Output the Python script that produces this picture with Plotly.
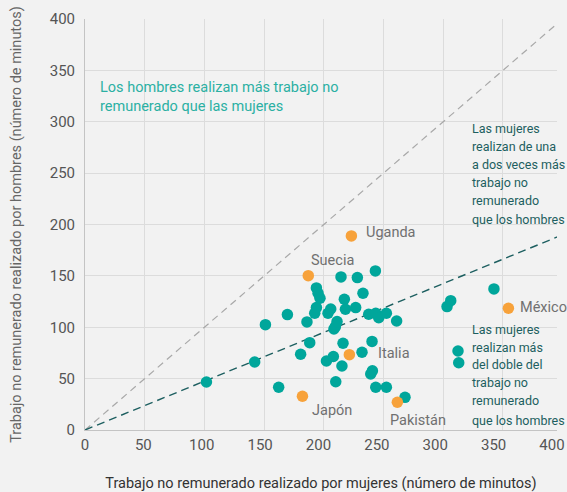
import plotly.graph_objects as go

# Teal points: unpaid work by women (x) vs men (y), minutes
teal_x = [101.7, 142.1, 151.1, 162.2, 169.5, 180.6, 185.9, 188.2, 192.4, 193.8,
          193.8, 195.2, 196.8, 202.2, 203.5, 205.8, 208.0, 208.5, 209.7, 211.1,
          210.0, 214.4, 215.2, 216.1, 217.2, 218.1, 226.7, 228.1, 232.0, 232.8,
          237.6, 239.3, 240.7, 240.4, 243.2, 243.5, 243.5, 246.0, 252.4, 252.4,
          261.0, 268.0, 303.2, 306.3, 312.4, 313.0, 342.5]
teal_y = [46.7, 66.2, 102.5, 41.6, 112.3, 73.7, 105.2, 85.0, 113.6, 119.1,
          138.3, 133.1, 128.2, 67.2, 113.6, 117.8, 71.5, 98.3, 100.6, 105.5,
          47.0, 149.0, 62.3, 84.4, 127.3, 117.5, 119.1, 148.3, 75.7, 133.1,
          112.7, 54.5, 57.7, 86.2, 154.8, 113.6, 41.6, 109.3, 113.6, 41.6,
          106.1, 31.8, 120.1, 125.9, 76.9, 65.5, 137.3]

# Highlighted countries
hl_names = ["Uganda", "Suecia", "México", "Italia", "Japón", "Pakistán"]
hl_x = [223.1, 187.0, 354.6, 221.4, 182.1, 261.6]
hl_y = [188.9, 150.2, 118.5, 73.3, 32.8, 27.0]
# label anchor positions (left edge of text, middle)
lbl_x = [233.5, 187.5, 362.5, 243.5, 188.5, 253.5]
lbl_y = [192.0, 164.5, 119.0, 74.0, 18.8, 9.7]

# Reference lines
eq_x = [0, 400]
eq_y = [0, 400]
half_x = [0, 400]
half_y = [0, 190]

# Text blocks (one entry per line) and their line positions
men_lines = ["Los hombres realizan más trabajo no", "remunerado que las mujeres"]
men_x = 11.0
men_y = [333.7, 314.8]
one_two_lines = ["Las mujeres", "realizan de una", "a dos veces más", "trabajo no",
                 "remunerado", "que los hombres"]
one_two_x = 322.8
one_two_y = [293.8, 275.9, 258.0, 240.8, 223.3, 205.2]
double_lines = ["Las mujeres", "realizan más", "del doble del", "trabajo no",
                "remunerado", "que los hombres"]
double_x = 322.2
double_y = [98.0, 80.5, 63.3, 46.1, 28.3, 9.7]

x_ticks = [0, 50, 100, 150, 200, 250, 300, 350, 400]
y_ticks = [0, 50, 100, 150, 200, 250, 300, 350, 400]

FONT = "Roboto, sans-serif"
TEAL = "#00a69b"
ORANGE = "#f7a23b"
DARK = "#1d5f60"
BG = "#f2f2f2"

def fnt(size, color):
    return dict(family=FONT, size=size, color=color)

fig = go.Figure()
fig.add_trace(go.Scatter(x=eq_x, y=eq_y, mode="lines",
                         line=dict(color="#a8a8a8", width=1.2, dash="7px,5px"),
                         hoverinfo="skip", showlegend=False))
fig.add_trace(go.Scatter(x=half_x, y=half_y, mode="lines",
                         line=dict(color=DARK, width=1.4, dash="8px,5px"),
                         hoverinfo="skip", showlegend=False))
fig.add_trace(go.Scatter(x=teal_x, y=teal_y, mode="markers",
                         marker=dict(color=TEAL, size=11.5),
                         showlegend=False))
fig.add_trace(go.Scatter(x=hl_x, y=hl_y, mode="markers",
                         marker=dict(color=ORANGE, size=11.5),
                         text=hl_names, showlegend=False))

for n, lx, ly in zip(hl_names, lbl_x, lbl_y):
    fig.add_annotation(x=lx, y=ly, text=n, showarrow=False, xanchor="left",
                       yanchor="middle", font=fnt(14.5, "#707070"))

def add_block(lines, x, ys, size, color):
    for t, yy in zip(lines, ys):
        fig.add_annotation(x=x, y=yy, text=t, showarrow=False, xanchor="left",
                           yanchor="middle", font=fnt(size, color))

add_block(men_lines, men_x, men_y, 14.5, "#2bb0a3")
add_block(one_two_lines, one_two_x, one_two_y, 12.5, DARK)
add_block(double_lines, double_x, double_y, 12.5, DARK)

# invisible trace to activate the tick-label axis
fig.add_trace(go.Scatter(x=[0], y=[0], xaxis="x2", mode="markers",
                         marker=dict(opacity=0), hoverinfo="skip", showlegend=False))

fig.update_layout(
    width=567, height=492, paper_bgcolor=BG, plot_bgcolor=BG,
    margin=dict(l=85, r=10, t=19, b=62), showlegend=False,
    xaxis=dict(range=[0, 395.3], tickvals=x_ticks, showticklabels=False,
               showgrid=True, gridcolor="#dcdcdc", zeroline=False,
               showline=True, linecolor="#c4c4c4", linewidth=1, ticks="",
               automargin=False,
               title=dict(text="Trabajo no remunerado realizado por mujeres (número de minutos)",
                          font=fnt(14.5, "#333333"), standoff=49)),
    xaxis2=dict(overlaying="x", anchor="y", side="bottom", range=[0, 404.3],
                tickvals=x_ticks, showgrid=False, zeroline=False, showline=False,
                ticks="", automargin=False, ticklabelstandoff=4,
                tickfont=fnt(15, "#555555")),
    yaxis=dict(range=[0, 400], tickvals=y_ticks,
               showgrid=True, gridcolor="#dcdcdc", zeroline=False,
               showline=True, linecolor="#c4c4c4", linewidth=1, ticks="",
               automargin=False, ticklabelstandoff=6,
               tickfont=fnt(15, "#555555"),
               title=dict(text="Trabajo no remunerado realizado por hombres (número de minutos)",
                          font=fnt(14.5, "#666666"), standoff=24)),
)
fig.write_html("out.html", config={"displayModeBar": False},
               post_script="document.body.style.margin='0';document.body.style.background='#f2f2f2';")
